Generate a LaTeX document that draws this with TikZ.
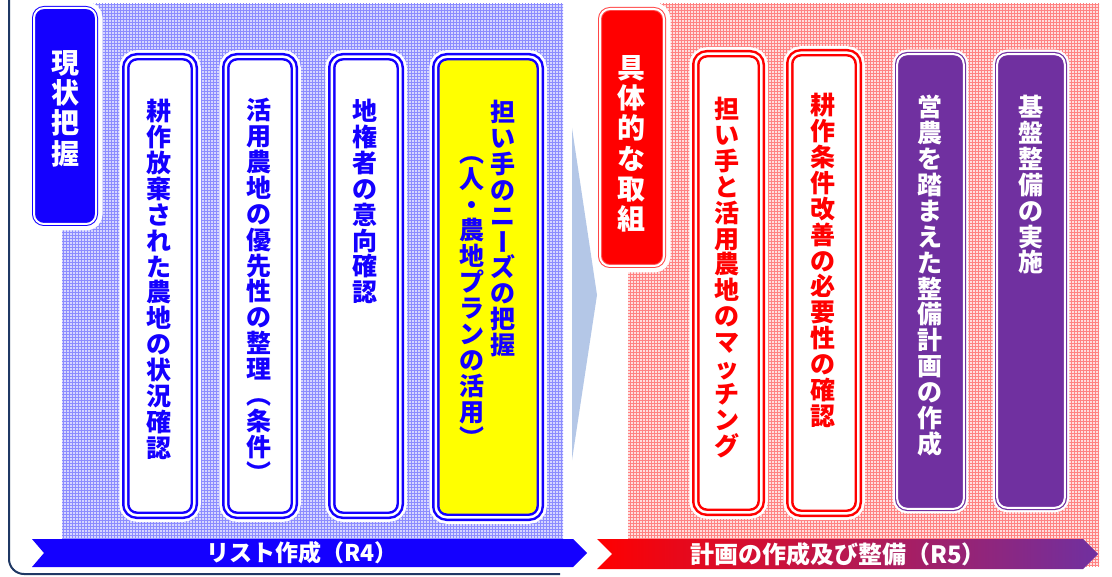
\documentclass[tikz,border=0pt]{standalone}
\usepackage{fontspec}
\newfontfamily\jp{Noto Sans CJK JP}[BoldFont={Noto Sans CJK JP Black}]
\usetikzlibrary{patterns}
\newcommand\vr[1]{\rotatebox[origin=c]{-90}{\vphantom{国}#1}}
\definecolor{bl}{RGB}{20,0,255}
\definecolor{rd}{RGB}{255,0,0}
\definecolor{rdl}{RGB}{255,70,70}
\definecolor{pu}{RGB}{112,48,160}
\definecolor{ye}{RGB}{255,255,0}
\definecolor{ar}{RGB}{180,199,231}
\definecolor{nv}{RGB}{31,56,100}
\definecolor{hb}{RGB}{140,140,255}
\definecolor{hbbg}{RGB}{214,214,255}
\definecolor{hr}{RGB}{255,130,130}
\definecolor{hrbg}{RGB}{255,222,222}
\definecolor{midr}{RGB}{215,20,70}
\begin{document}
\begin{tikzpicture}[x=1pt,y=-1pt,
  halo/.style={preaction={draw=white,line width=13pt}},
  dbox/.style={draw=#1,double=white,double distance=2.5pt,line width=2.5pt,
    rounded corners=11pt,inner sep=0pt,fill=white,halo},
  hbox/.style={draw=#1,double=white,double distance=2pt,line width=1pt,
    rounded corners=10pt,inner sep=0pt,halo},
  pbox/.style={draw=pu,double=white,double distance=2pt,line width=1.2pt,
    rounded corners=10pt,inner sep=0pt,fill=pu,preaction={draw=white,line width=9pt}},
  vtxt/.style={font=\jp\bfseries\fontsize{25}{25.9}\selectfont,align=center,inner sep=0pt,anchor=north},
  htxt/.style={font=\jp\bfseries\fontsize{28}{30.3}\selectfont,align=center,inner sep=0pt,anchor=north,text=white},
  btxt/.style={font=\jp\bfseries\fontsize{23}{26}\selectfont,inner sep=0pt,text=white}
]
\useasboundingbox (0,0) rectangle (1112,577);
\fill[white] (0,0) rectangle (1112,577);
% outer frame
\draw[nv,line width=2pt,rounded corners=15pt] (9,-5) -- (9,574) -- (560,574);
% hatched areas
\fill[hbbg] (62,4) rectangle (563,538);
\fill[pattern=grid,pattern color=hb] (62,4) rectangle (563,538);
\fill[hrbg] (628,4) rectangle (1099,566);
\fill[pattern=grid,pattern color=hr] (628,4) rectangle (1099,566);
% transition arrow
\fill[ar] (572,128) -- (597,295) -- (572,460) -- cycle;
% header boxes
\node[hbox=bl,fill=bl,minimum width=62pt,minimum height=216pt] (h1) at (65,116) {};
\node[htxt] (th1) at (65,50) {現\\状\\把\\握};
\node[hbox=rdl,fill=rd,minimum width=64pt,minimum height=257pt] (h2) at (632,137.5) {};
\node[htxt] (th2) at (631,55) {具\\体\\的\\な\\取\\組};
% blue boxes
\node[dbox=bl,minimum width=68.5pt,minimum height=458.5pt] (b1) at (160,286) {};
\node[dbox=bl,minimum width=68.5pt,minimum height=458.5pt] (b2) at (260,286) {};
\node[dbox=bl,minimum width=68.5pt,minimum height=458.5pt] (b3) at (366,286) {};
\node[dbox=bl,fill=ye,minimum width=104.5pt,minimum height=460.5pt] (b4) at (488,287) {};
\node[vtxt,text=bl] (t1) at (159,99) {耕\\作\\放\\棄\\さ\\れ\\た\\農\\地\\の\\状\\況\\確\\認};
\node[vtxt,text=bl] (t2) at (259,98) {活\\用\\農\\地\\の\\優\\先\\性\\の\\整\\理\\\vr{（}\\条\\件\\\vr{）}};
\node[vtxt,text=bl] (t3) at (365,99) {地\\権\\者\\の\\意\\向\\確\\認};
\node[vtxt,text=bl] (t4a) at (503,100) {担\\い\\手\\の\\ニ\\\vr{ー}\\ズ\\の\\把\\握};
\node[vtxt,text=bl] (t4b) at (472,140) {\vr{（}\\人\\・\\農\\地\\プ\\ラ\\ン\\の\\活\\用\\\vr{）}};
% red boxes
\node[dbox=rd,minimum width=65.5pt,minimum height=458.5pt] (b5) at (728.5,283) {};
\node[dbox=rd,minimum width=68.5pt,minimum height=460.5pt] (b6) at (824,283) {};
\node[vtxt,text=rd] (t5) at (727,97) {担\\い\\手\\と\\活\\用\\農\\地\\の\\マ\\ッ\\チ\\ン\\グ};
\node[vtxt,text=rd] (t6) at (823,93) {耕\\作\\条\\件\\改\\善\\の\\必\\要\\性\\の\\確\\認};
% purple boxes
\node[pbox,minimum width=66.6pt,minimum height=454.6pt] (b7) at (930.5,281.5) {};
\node[pbox,minimum width=67.6pt,minimum height=453.6pt] (b8) at (1031,281) {};
\node[vtxt,text=white] (t7) at (930,95) {営\\農\\を\\踏\\ま\\え\\た\\整\\備\\計\\画\\の\\作\\成};
\node[vtxt,text=white] (t8) at (1031,95) {基\\盤\\整\\備\\の\\実\\施};
% banners
\coordinate (ba1) at (32,539);
\coordinate (ba2) at (573,539);
\coordinate (ba3) at (587,553);
\coordinate (ba4) at (573,567);
\coordinate (ba5) at (32,567);
\coordinate (ba6) at (44,553);
\fill[bl] (ba1) -- (ba2) -- (ba3) -- (ba4) -- (ba5) -- (ba6) -- cycle;
\node[btxt] (bt1) at (302,553) {リスト作成（R4）};
\coordinate (bb1) at (597,539);
\coordinate (bb2) at (1083,539);
\coordinate (bb3) at (1098,554);
\coordinate (bb4) at (1083,569);
\coordinate (bb5) at (597,569);
\coordinate (bb6) at (612,554);
\shade[left color=rd,middle color=midr,right color=pu] (bb1) -- (bb2) -- (bb3) -- (bb4) -- (bb5) -- (bb6) -- cycle;
\node[btxt,font=\jp\bfseries\fontsize{24}{26}\selectfont] (bt2) at (838,554) {計画の作成及び整備（R5）};
\end{tikzpicture}
\end{document}
